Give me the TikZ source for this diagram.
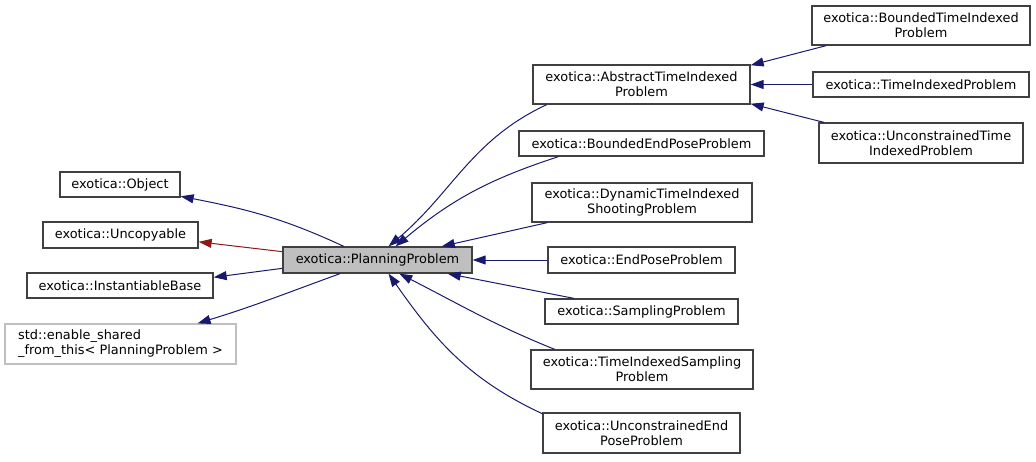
\documentclass[tikz,border=0pt]{standalone}
\usepackage{fontspec}
\setmainfont{DejaVu Sans}
\usetikzlibrary{arrows.meta}
\definecolor{edgeblue}{HTML}{191970}
\definecolor{edgered}{HTML}{8B1A1A}
\definecolor{boxline}{HTML}{404040}
\definecolor{boxgrey}{HTML}{BFBFBF}

\begin{document}
\begin{tikzpicture}[x=1pt, y=-1pt,
    cls/.style={draw=boxline, line width=1.3pt, inner sep=0pt, align=center,
        font=\fontsize{12.9}{15}\selectfont},
    extcls/.style={cls, draw=boxgrey, align=left},
    inherit/.style={-{Triangle[length=13pt, width=9pt]}, edgeblue, line width=1pt},
    privinherit/.style={inherit, edgered}]
    \useasboundingbox (0,0) rectangle (1036,461);
    % Base classes
    \node[cls, minimum width=120, minimum height=25] (object) at (120,184.5) {exotica::Object};
    \node[cls, minimum width=155, minimum height=26] (uncopyable) at (120.5,235) {exotica::Uncopyable};
    \node[cls, minimum width=186, minimum height=25] (instbase) at (120,285.5) {exotica::InstantiableBase};
    \node[extcls, minimum width=231, minimum height=40] (enableshared) at (120.5,344)
        {std::enable\_shared\\\_from\_this< PlanningProblem >};
    % The class itself
    \node[cls, fill=boxgrey, minimum width=189, minimum height=26] (planning) at (377.5,260) {exotica::PlanningProblem};
    % Derived classes
    \node[cls, minimum width=217, minimum height=39] (abstract) at (641.5,84.5) {exotica::AbstractTimeIndexed\\Problem};
    \node[cls, minimum width=245, minimum height=25] (boundedend) at (641.5,143.5) {exotica::BoundedEndPoseProblem};
    \node[cls, minimum width=220, minimum height=39] (dynamic) at (642,202.5) {exotica::DynamicTimeIndexed\\ShootingProblem};
    \node[cls, minimum width=187, minimum height=26] (endpose) at (641.5,260) {exotica::EndPoseProblem};
    \node[cls, minimum width=193, minimum height=25] (sampling) at (641.5,311.5) {exotica::SamplingProblem};
    \node[cls, minimum width=222, minimum height=39] (tisampling) at (642,369.5) {exotica::TimeIndexedSampling\\Problem};
    \node[cls, minimum width=197, minimum height=40] (unconend) at (641.5,433) {exotica::UnconstrainedEnd\\PoseProblem};
    % Derived from AbstractTimeIndexedProblem
    \node[cls, minimum width=218, minimum height=39] (boundedti) at (921,25.5) {exotica::BoundedTimeIndexed\\Problem};
    \node[cls, minimum width=216, minimum height=25] (timeindexed) at (921,84.5) {exotica::TimeIndexedProblem};
    \node[cls, minimum width=204, minimum height=40] (uncontime) at (921,143) {exotica::UnconstrainedTime\\IndexedProblem};
    % Inheritance to the bases
    \draw[inherit] (planning.158) to[out=155, in=-11] (object.-11);
    \draw[privinherit] (planning.175) -- (uncopyable.-5);
    \draw[inherit] (planning.185) -- (instbase.5);
    \draw[inherit] (planning.200) to[out=200, in=17] (enableshared.15);
    % Inheritance from the derived classes
    \draw[inherit] (abstract.192) to[out=205, in=40] (planning.51);
    \draw[inherit] (boundedend.189) to[out=198, in=40] (planning.37);
    \draw[inherit] (dynamic.192) -- (planning.12);
    \draw[inherit] (endpose.west) -- (planning.east);
    \draw[inherit] (sampling.169) -- (planning.-11);
    \draw[inherit] (tisampling.167) to[out=158, in=-27] (planning.-32);
    \draw[inherit] (unconend.169) to[out=155, in=-55] (planning.-51);
    \draw[inherit] (boundedti.192) -- (abstract.10.5);
    \draw[inherit] (timeindexed.west) -- (abstract.east);
    \draw[inherit] (uncontime.168) -- (abstract.-10.5);
\end{tikzpicture}
\end{document}
